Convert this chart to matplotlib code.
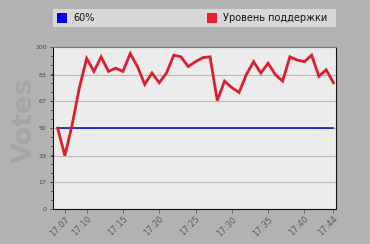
import numpy as np
import matplotlib
matplotlib.use("Agg")
import matplotlib.pyplot as plt
from matplotlib.patches import Rectangle

# minutes after 17:00
minutes = list(range(6, 45))
support = [50, 33, 52, 75, 93, 85, 94, 85, 87, 85, 96, 88, 77, 84, 78, 84, 95, 94,
           88, 91, 93.5, 94, 67, 79, 75, 72, 83, 91, 84, 90, 83, 79, 94, 92, 91, 95,
           82, 86, 78]
threshold = [50] * len(minutes)

tick_minutes = [7, 10, 15, 20, 25, 30, 35, 40, 44]
tick_labels = ["17:%02d" % m for m in tick_minutes]
y_ticks = [0, 17, 33, 50, 67, 83, 100]
legend_labels = ["60%", "Уровень поддержки"]

bg = "#b3b3b3"
fig = plt.figure(figsize=(3.7, 2.44), dpi=100, facecolor=bg)
ax = fig.add_axes([0.143, 0.143, 0.765, 0.664])
ax.set_facecolor("#ececec")

ax.plot(minutes, threshold, color="#0000cc", lw=1.1, zorder=3)
ax.plot(minutes, support, color="#dd1e2f", lw=2.0, zorder=4, solid_joinstyle="miter")

ax.set_xlim(5.35, 44.35)
ax.set_ylim(0, 100)
ax.set_yticks(y_ticks)
ax.set_yticks(np.arange(0, 101, 100 / 18), minor=True)
ax.set_xticks(tick_minutes)
ax.set_xticklabels(tick_labels, rotation=45, ha="right", rotation_mode="anchor")
ax.tick_params(axis="y", labelsize=4.5, colors="#444444", length=2.5, width=0.6, pad=2)
ax.tick_params(axis="y", which="minor", length=1.5, width=0.5)
ax.tick_params(axis="x", labelsize=6, colors="#5a5a5a", length=3, width=0.6, pad=1)
ax.grid(axis="y", color="#b8b8b8", lw=0.8)
ax.set_axisbelow(True)
for s in ["left", "bottom", "right"]:
    ax.spines[s].set_color("#111111")
    ax.spines[s].set_linewidth(0.8)
ax.spines["top"].set_color("#777777")

ax.set_ylabel("Votes", fontsize=19.5, fontweight="bold", color="#a6a6a6")
ax.yaxis.set_label_coords(-0.052, 0.546)

# legend bar on top
fig.patches.append(Rectangle((53 / 370, 1 - 27 / 244), 283 / 370, 18 / 244,
                             transform=fig.transFigure, facecolor="#d8d8d8",
                             edgecolor="none"))
for x0, col, lab in [(57, "#0000ee", legend_labels[0]), (207, "#e8202f", legend_labels[1])]:
    fig.patches.append(Rectangle((x0 / 370, 1 - 23 / 244), 10 / 370, 10 / 244,
                                 transform=fig.transFigure, facecolor=col,
                                 edgecolor="none"))
    fig.text((x0 + 16) / 370, 1 - 18 / 244, lab, fontsize=7, color="#111111",
             va="center", ha="left")

fig.savefig("out.png", dpi=100, facecolor=bg)
